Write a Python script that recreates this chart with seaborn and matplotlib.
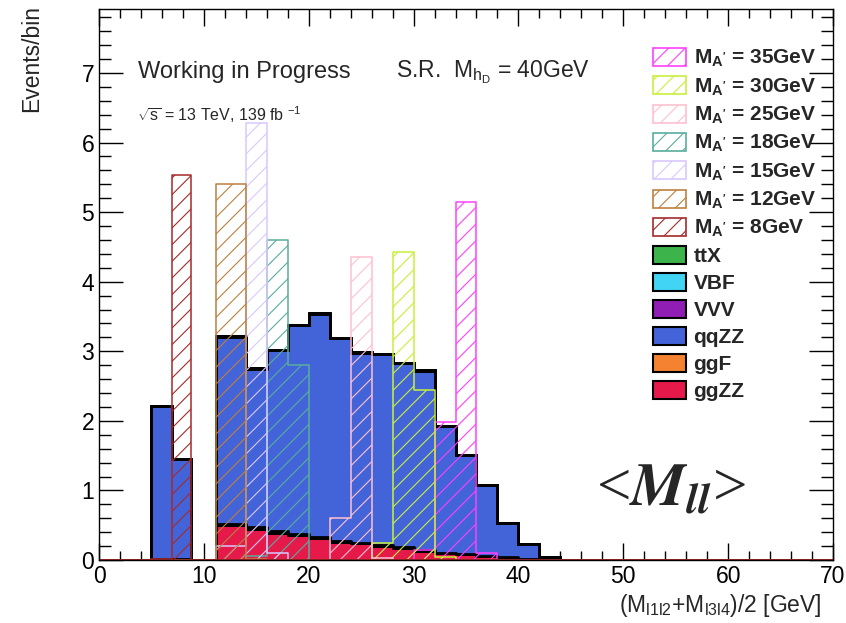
# Distribuição de <M_ll> na região de sinal: fundos empilhados + sinais hachurados

import numpy as np
import pandas as pd
import matplotlib
matplotlib.use("Agg")
import matplotlib.pyplot as plt
from matplotlib.patches import Patch
from matplotlib.ticker import MultipleLocator
import seaborn as sns

# bordas dos bins (GeV)
bin_edges = [0, 5, 7, 8.8, 11.2, 14, 16, 18, 20, 22, 24, 26, 28, 30, 32, 34, 36, 38, 40, 42, 44, 70]

# fundos (eventos/bin)
ggZZ = [0, 0, 0, 0, 0.50, 0.45, 0.39, 0.36, 0.32, 0.26, 0.24, 0.20, 0.17, 0.13, 0.10, 0.09, 0.06, 0.04, 0.02, 0.01, 0]
ggF  = [0, 0.01, 0.01, 0, 0.02, 0.02, 0.02, 0.01, 0.01, 0.01, 0.01, 0.01, 0.01, 0.01, 0, 0, 0, 0, 0, 0, 0]
qqZZ = [0, 2.20, 1.44, 0, 2.69, 2.28, 2.61, 3.01, 3.21, 2.92, 2.73, 2.75, 2.65, 2.58, 1.82, 1.42, 1.02, 0.49, 0.21, 0.03, 0]
VVV  = [0, 0, 0, 0, 0.005, 0.005, 0.005, 0.005, 0.005, 0.005, 0.005, 0.005, 0.005, 0.005, 0, 0, 0, 0, 0, 0, 0]
VBF  = [0, 0, 0, 0, 0, 0, 0, 0, 0, 0, 0, 0, 0, 0, 0, 0, 0, 0, 0, 0, 0]
ttX  = [0, 0, 0, 0, 0, 0, 0, 0, 0, 0, 0, 0, 0, 0, 0, 0, 0, 0, 0, 0, 0]

# sinais M_A'
sig_35 = [0, 0, 0, 0, 0, 0, 0, 0, 0, 0, 0, 0, 0, 0.14, 1.98, 5.14, 0.10, 0, 0, 0, 0]
sig_30 = [0, 0, 0, 0, 0, 0, 0, 0, 0, 0, 0, 0.24, 4.42, 2.44, 0.05, 0, 0, 0, 0, 0, 0]
sig_25 = [0, 0, 0, 0, 0, 0, 0, 0, 0, 0.61, 4.36, 0.03, 0, 0, 0, 0, 0, 0, 0, 0, 0]
sig_18 = [0, 0, 0, 0, 0, 0.06, 4.60, 2.80, 0, 0, 0, 0, 0, 0, 0, 0, 0, 0, 0, 0, 0]
sig_15 = [0, 0, 0, 0, 0.20, 6.28, 0.10, 0, 0, 0, 0, 0, 0, 0, 0, 0, 0, 0, 0, 0, 0]
sig_12 = [0, 0, 0, 0, 5.41, 0.02, 0, 0, 0, 0, 0, 0, 0, 0, 0, 0, 0, 0, 0, 0, 0]
sig_8  = [0, 0.02, 5.54, 0, 0, 0, 0, 0, 0, 0, 0, 0, 0, 0, 0, 0, 0, 0, 0, 0, 0]

sig_masses = ["35", "30", "25", "18", "15", "12", "8"]
sig_values = [sig_35, sig_30, sig_25, sig_18, sig_15, sig_12, sig_8]
sig_colors = ["#ff40ff", "#c8f03c", "#ffc0d0", "#58ae9c", "#d8c8ff", "#bd8040", "#a52a2a"]

bkg_order = ["ttX", "VBF", "VVV", "qqZZ", "ggF", "ggZZ"]
bkg_values = [ttX, VBF, VVV, qqZZ, ggF, ggZZ]
bkg_colors = ["#3cb44b", "#42d4f4", "#911eb4", "#4363d8", "#f58231", "#e6194b"]

sns.set_theme(style="ticks")
plt.rcParams["font.family"] = ["Liberation Sans", "DejaVu Sans"]
plt.rcParams["mathtext.fontset"] = "custom"
plt.rcParams["mathtext.rm"] = "Liberation Sans"
plt.rcParams["mathtext.it"] = "Liberation Sans:italic"
plt.rcParams["mathtext.bf"] = "Liberation Sans:bold"
plt.rcParams["hatch.linewidth"] = 0.8

edges = np.array(bin_edges)
centers = (edges[:-1] + edges[1:]) / 2

# tabela longa para o seaborn
bkg_df = pd.concat(
    [pd.DataFrame({"x": centers, "w": vals, "proc": name}) for name, vals in zip(bkg_order, bkg_values)],
    ignore_index=True,
)

fig = plt.figure(figsize=(8.46, 6.23), dpi=100)
ax = fig.add_axes([99 / 846, 63 / 623, 734 / 846, 551 / 623])

sns.histplot(data=bkg_df, x="x", weights="w", hue="proc", hue_order=bkg_order,
             palette=dict(zip(bkg_order, bkg_colors)), bins=bin_edges,
             multiple="stack", element="step", alpha=1, edgecolor="black",
             linewidth=2, legend=False, ax=ax)

for vals, col in zip(sig_values, sig_colors):
    plt.rcParams["hatch.color"] = col
    sns.histplot(x=centers, weights=vals, bins=bin_edges, element="step", fill=True,
                 color=col, facecolor="none", edgecolor=col, hatch="//",
                 linewidth=1.1, alpha=1, ax=ax)

ax.set_xlim(0, 70)
ax.set_ylim(0, 7.92)
ax.set_xlabel("")
ax.set_ylabel("")
ax.xaxis.set_major_locator(MultipleLocator(10))
ax.xaxis.set_minor_locator(MultipleLocator(2))
ax.yaxis.set_major_locator(MultipleLocator(1))
ax.yaxis.set_minor_locator(MultipleLocator(0.2))
ax.tick_params(axis="both", which="both", direction="in", top=True, right=True,
               labelsize=16.5, colors="black", width=1)
ax.tick_params(axis="y", which="major", length=17)
ax.tick_params(axis="y", which="minor", length=8.5)
ax.tick_params(axis="x", which="major", length=12)
ax.tick_params(axis="x", which="minor", length=6.5)
for sp in ax.spines.values():
    sp.set_visible(True)
    sp.set_color("black")
    sp.set_linewidth(1)

# legenda
handles = []
for m, col in zip(sig_masses, sig_colors):
    handles.append(Patch(facecolor="none", edgecolor=col, hatch="//", linewidth=1.2,
                         label=r"$\mathbf{M_{A^{\prime}}}$ = " + m + "GeV"))
for name, col in zip(bkg_order, bkg_colors):
    handles.append(Patch(facecolor=col, edgecolor="black", linewidth=1.5, label=name))
ax.legend(handles=handles, loc="upper left", bbox_to_anchor=(653 / 846, 1 - 48 / 623),
          bbox_transform=fig.transFigure, frameon=False, borderpad=0, borderaxespad=0,
          prop={"weight": "bold", "size": 15}, handlelength=1.6, handleheight=0.95,
          handletextpad=0.35, labelspacing=0.33)

# textos
ax.text(138 / 846, 1 - 72 / 623, "Working in Progress", transform=fig.transFigure,
        fontsize=17, va="center", ha="left")
ax.text(396 / 846, 1 - 72 / 623, r"S.R.  $\mathrm{M_{h_{D}}}$ = 40GeV", transform=fig.transFigure,
        fontsize=16.5, va="center", ha="left")
ax.text(137 / 846, 1 - 115 / 623, r"$\sqrt{\mathrm{s}}$ = 13 TeV, 139 fb $^{-1}$",
        transform=fig.transFigure, fontsize=11.5, va="center", ha="left")
fig.text(596 / 846, 1 - 505 / 623, r"<$\mathbfit{M}_{\mathbfit{ll}}$>", fontsize=44,
         ha="left", va="baseline", family="Liberation Serif", math_fontfamily="stix")
fig.text(822 / 846, 1 - 612 / 623, r"(M$_{\mathrm{l1l2}}$+M$_{\mathrm{l3l4}}$)/2 [GeV]",
         fontsize=16.5, ha="right", va="baseline")
fig.text(32 / 846, 1 - 5 / 623, "Events/bin", fontsize=16.5, rotation=90,
         ha="center", va="top")

fig.savefig("out.png", dpi=100)
